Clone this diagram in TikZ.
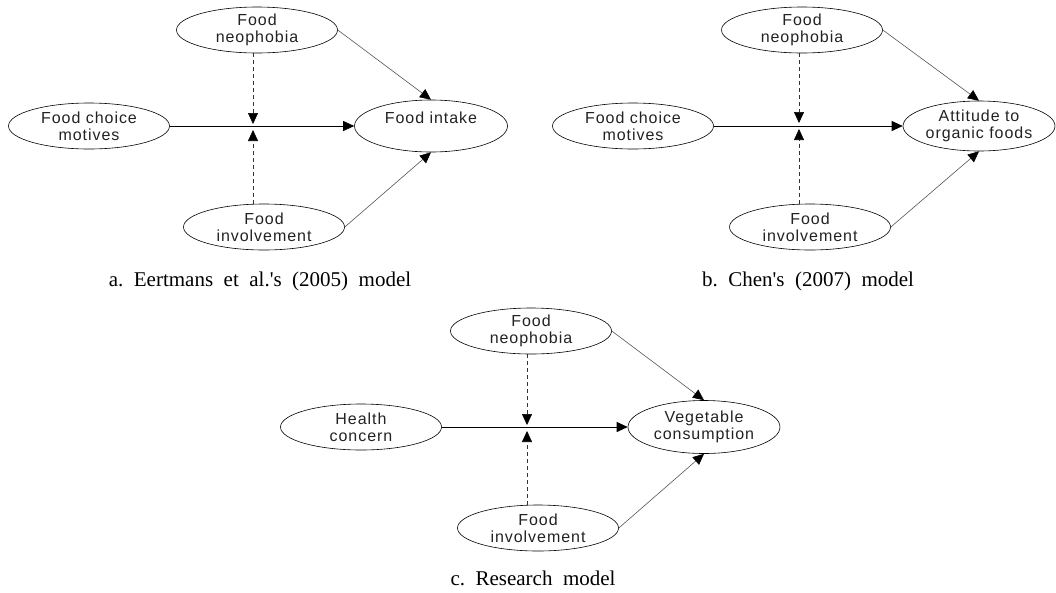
\documentclass[tikz,border=0pt]{standalone}
\usepackage{fontspec}
\setmainfont{Liberation Serif}
\newfontfamily\gul[LetterSpace=6]{Liberation Sans}
\usetikzlibrary{shapes.geometric,arrows.meta}
\definecolor{txtgray}{HTML}{222222}
\definecolor{linegray}{HTML}{555555}
\begin{document}
\begin{tikzpicture}[x=1pt,y=-1pt,
  var/.style={ellipse,draw=black,line width=0.6pt,minimum width=161pt,minimum height=46pt,inner sep=0pt,
    align=center,font=\gul\fontsize{16}{17}\selectfont,text=txtgray},
  tip/.style={-{Triangle[length=11pt,width=10pt,color=black]}},
  main/.style={tip,draw=black,line width=0.7pt},
  diag/.style={tip,draw=linegray,line width=0.6pt},
  mod/.style={tip,draw=black!80,dashed,dash pattern=on 4pt off 3pt,line width=0.6pt},
  captext/.style={font=\fontsize{21}{24}\selectfont}]
\useasboundingbox (0,0) rectangle (1056,592);
% panel a
\node[var] (an) at (257,30) {Food\\neophobia};
\node[var] (am) at (89,126) {Food  choice\\motives};
\node[var,minimum width=153pt,minimum height=52pt] (at) at (431,126) {Food  intake\\[-1pt]\phantom{x}};
\node[var] (ai) at (264,227) {Food\\involvement};
\coordinate (aj) at (253,127);
\draw[main] (am.east) -- (at.west);
\draw[mod] (an.south -| aj) -- ([yshift=3pt]aj);
\draw[mod] (ai.north -| aj) -- ([yshift=-3pt]aj);
\draw[diag] (an.east) -- (at.north);
\draw[diag] (ai.east) -- (at.south);
\node[captext] (acap) at (260,281) {a.\ \ Eertmans\ \ et\ \ al.\textquotesingle s\ \ (2005)\ \ model};
% panel b
\node[var] (bn) at (802,30) {Food\\neophobia};
\node[var] (bm) at (633,126) {Food  choice\\motives};
\node[var,minimum width=152pt,minimum height=50pt] (bt) at (979,126) {Attitude  to\\organic  foods};
\node[var] (bi) at (810,227) {Food\\involvement};
\coordinate (bj) at (799,126);
\draw[main] (bm.east) -- (bt.west);
\draw[mod] (bn.south -| bj) -- ([yshift=3pt]bj);
\draw[mod] (bi.north -| bj) -- ([yshift=-3pt]bj);
\draw[diag] (bn.east) -- (bt.north);
\draw[diag] (bi.east) -- (bt.south);
\node[captext] (bcap) at (808,281) {b.\ \ Chen\textquotesingle s\ \ (2007)\ \ model};
% panel c
\node[var] (cn) at (531,331) {Food\\neophobia};
\node[var] (cm) at (361,427) {Health\\concern};
\node[var,minimum width=152pt,minimum height=53pt] (ct) at (704,427) {Vegetable\\consumption};
\node[var] (ci) at (538,528) {Food\\involvement};
\coordinate (cj) at (527,428);
\draw[main] (cm.east) -- (ct.west);
\draw[mod] (cn.south -| cj) -- ([yshift=3pt]cj);
\draw[mod] (ci.north -| cj) -- ([yshift=-3pt]cj);
\draw[diag] (cn.east) -- (ct.north);
\draw[diag] (ci.east) -- (ct.south);
\node[captext] (ccap) at (533,578) {c.\ \ Research\ \ model};
\end{tikzpicture}
\end{document}
